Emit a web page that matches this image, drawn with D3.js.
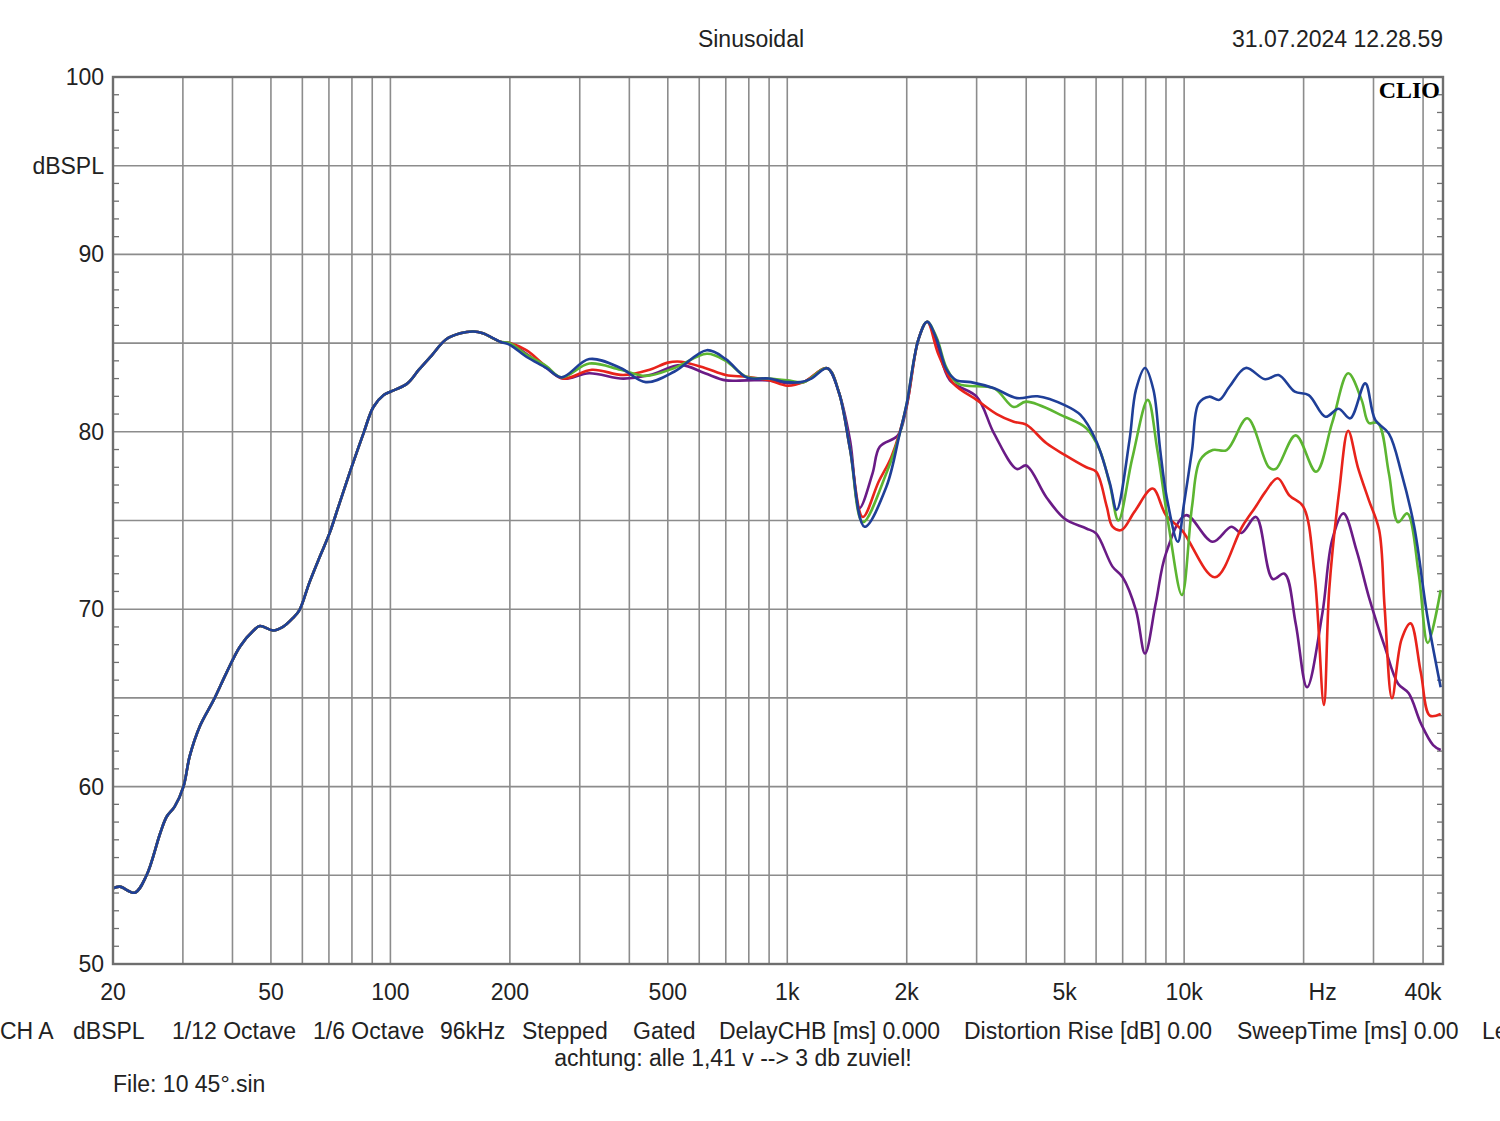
<!DOCTYPE html>
<html>
<head>
<meta charset="utf-8">
<script src="https://cdn.jsdelivr.net/npm/d3@7"></script>
<style>
  body { margin: 0; background: #fff; }
  text { font-family: "Liberation Sans", Arial, sans-serif; fill: #222; }
</style>
</head>
<body>
<svg id="chart"></svg>
<script>
// shared low end (all four measurements overlap below 200 Hz)
const lowFreq = [20, 20.8, 22.7, 24.3, 26.3, 27.3, 28.6, 30.1, 31.2, 33.1, 35.9, 38.6, 41.8, 45.2, 46.9, 50.7, 53.6, 56.8, 59, 62.5, 66.5, 70.3, 74, 79.4, 85.5, 90.6, 96.2, 100, 110, 118, 127, 138, 150, 162, 171, 189];
const lowDb = [54.27, 54.36, 54.02, 55.0, 57.37, 58.3, 58.87, 60.0, 61.7, 63.4, 64.9, 66.4, 67.9, 68.8, 69.05, 68.8, 69.0, 69.5, 69.95, 71.5, 73.0, 74.3, 75.8, 77.85, 79.9, 81.4, 82.07, 82.26, 82.7, 83.5, 84.3, 85.2, 85.55, 85.65, 85.55, 85.08];

const blueFreq = [200, 220, 247, 270, 317, 380, 440, 520, 627, 700, 789, 900, 1000, 1080, 1150, 1261, 1350, 1440, 1566, 1777, 1920, 2000, 2140, 2252, 2380, 2520, 2670, 2900, 3320, 3790, 4270, 5000, 5480, 6000, 6500, 6760, 7280, 7560, 7970, 8370, 8700, 9040, 9640, 9970, 10470, 10880, 11570, 12260, 13000, 14300, 16000, 17300, 19000, 20600, 22700, 24500, 26200, 28600, 30300, 32800, 35300, 38000, 41000, 44300];
const blueDb = [84.9, 84.23, 83.6, 83.07, 84.1, 83.6, 82.8, 83.4, 84.6, 84.1, 83.07, 83.0, 82.8, 82.8, 83.0, 83.58, 82.2, 79.0, 74.65, 76.9, 79.9, 81.6, 85.2, 86.2, 85.2, 83.5, 82.9, 82.8, 82.45, 81.9, 82.0, 81.5, 80.95, 79.5, 77.1, 75.6, 79.5, 82.36, 83.6, 82.36, 79.0, 76.3, 73.8, 75.8, 78.97, 81.6, 81.98, 81.8, 82.54, 83.6, 82.96, 83.2, 82.26, 82.07, 80.85, 81.3, 80.76, 82.73, 80.67, 79.9, 77.66, 74.65, 69.6, 65.6];

const greenFreq = [200, 220, 247, 270, 317, 380, 440, 520, 627, 700, 789, 900, 1000, 1100, 1261, 1350, 1440, 1550, 1777, 1920, 2000, 2140, 2252, 2380, 2520, 2700, 3320, 3720, 4000, 5000, 5670, 6120, 6500, 6830, 7400, 8100, 8560, 9150, 9870, 10470, 10970, 11800, 12800, 14430, 16350, 17000, 19100, 21500, 23600, 25900, 28000, 29200, 30800, 32800, 34600, 36500, 39000, 41100, 44300];
const greenDb = [85.0, 84.35, 83.7, 83.07, 83.85, 83.5, 83.15, 83.6, 84.4, 84.0, 83.1, 83.0, 82.9, 82.8, 83.58, 82.2, 79.0, 74.9, 77.66, 79.9, 81.6, 85.2, 86.2, 85.3, 83.6, 82.7, 82.45, 81.4, 81.7, 80.85, 80.2, 79.0, 77.0, 75.0, 78.5, 81.8, 78.97, 74.65, 70.8, 75.8, 78.4, 78.97, 78.97, 80.76, 78.0, 77.9, 79.8, 77.75, 80.5, 83.3, 81.8, 80.5, 80.5, 77.66, 74.9, 75.4, 72.0, 68.1, 71.08];

const redFreq = [200, 220, 247, 272, 322, 386, 450, 500, 540, 620, 700, 790, 900, 1000, 1100, 1261, 1350, 1440, 1550, 1700, 1830, 2000, 2140, 2252, 2400, 2620, 3000, 3370, 3720, 4000, 4500, 5000, 5670, 6000, 6380, 6600, 6950, 7500, 8330, 9000, 9870, 11960, 14000, 15170, 16000, 17200, 18430, 19940, 21300, 22500, 23200, 24600, 25900, 27400, 29200, 31000, 32000, 33400, 35300, 37200, 39500, 41600, 44300];
const redDb = [85.0, 84.6, 83.67, 83.0, 83.5, 83.2, 83.5, 83.9, 83.95, 83.6, 83.2, 83.1, 82.9, 82.6, 82.8, 83.58, 82.2, 79.0, 75.2, 77.2, 78.6, 81.5, 85.2, 86.2, 84.4, 82.73, 81.8, 81.0, 80.57, 80.4, 79.35, 78.7, 78.0, 77.75, 75.8, 74.65, 74.46, 75.5, 76.8, 75.3, 74.46, 71.8, 74.65, 75.8, 76.6, 77.38, 76.4, 75.8, 72.0, 64.6, 71.08, 76.7, 80.06, 78.0, 76.15, 74.46, 70.1, 64.98, 68.3, 69.2, 66.4, 64.0, 64.1];

const purpleFreq = [200, 220, 247, 272, 317, 386, 450, 540, 620, 700, 790, 900, 1000, 1100, 1261, 1350, 1440, 1520, 1640, 1710, 1900, 1990, 2140, 2252, 2380, 2570, 3000, 3320, 3790, 4000, 4500, 5000, 5670, 6000, 6600, 7000, 7560, 7970, 8480, 9000, 10100, 11800, 13150, 13940, 15170, 16720, 17900, 19100, 20400, 22300, 23600, 25200, 27200, 29200, 32000, 34600, 36800, 39500, 42400, 44300];
const purpleDb = [85.0, 84.4, 83.6, 83.0, 83.3, 83.0, 83.2, 83.76, 83.3, 82.9, 82.9, 82.9, 82.75, 82.8, 83.58, 82.2, 79.5, 75.7, 77.66, 79.16, 79.8, 81.2, 85.2, 86.2, 85.0, 82.9, 81.98, 79.9, 77.9, 78.1, 76.3, 75.1, 74.55, 74.27, 72.4, 71.8, 69.95, 67.5, 70.33, 73.15, 75.3, 73.8, 74.65, 74.3, 75.2, 71.7, 72.0, 69.2, 65.6, 69.77, 73.9, 75.4, 73.3, 70.7, 67.9, 65.8, 65.26, 63.56, 62.34, 62.06];

const seriesNames = ["purple", "red", "green", "blue"];
const seriesColors = ["#6a1b86", "#e8231b", "#5cb531", "#1f3f98"];
const seriesFreq = [purpleFreq, redFreq, greenFreq, blueFreq];
const seriesDb = [purpleDb, redDb, greenDb, blueDb];

const gridFreqs = [30, 40, 50, 60, 70, 80, 90, 100, 200, 300, 400, 500, 600, 700, 800, 900, 1000, 2000, 3000, 4000, 5000, 6000, 7000, 8000, 9000, 10000, 20000, 30000, 40000];
const xTickValues = [20, 50, 100, 200, 500, 1000, 2000, 5000, 10000, 20000, 40000];
const xTickLabels = ["20", "50", "100", "200", "500", "1k", "2k", "5k", "10k", "Hz", "40k"];
const yTickValues = [100, 90, 80, 70, 60, 50];

const footerItems = ["CH A", "dBSPL", "1/12 Octave", "1/6 Octave", "96kHz", "Stepped", "Gated", "DelayCHB [ms] 0.000", "Distortion Rise [dB] 0.00", "SweepTime [ms] 0.00", "Le"];
const footerX = [0, 73, 172, 313, 440, 522, 633, 719, 964, 1237, 1482];

function main() {
    const width = 1500, height = 1121;
    const left = 113, right = 1443, top = 77, bottom = 964;

    const svg = d3.select("#chart").attr("width", width).attr("height", height);

    const x = d3.scaleLog().domain([20, 44900]).range([left, right]);
    const y = d3.scaleLinear().domain([50, 100]).range([bottom, top]);

    const grid = svg.append("g").attr("stroke", "#8c8c8c").attr("stroke-width", 1.6);

    grid.selectAll(".vgrid").data(gridFreqs).join("line")
        .attr("x1", d => x(d)).attr("x2", d => x(d))
        .attr("y1", top).attr("y2", bottom);

    grid.selectAll(".hgrid").data(d3.range(55, 100, 5)).join("line")
        .attr("x1", left).attr("x2", right)
        .attr("y1", d => y(d)).attr("y2", d => y(d));

    // 1 dB minor ticks on both sides
    const minor = d3.range(51, 100).filter(d => d % 5 !== 0);
    const ticks = svg.append("g").attr("stroke", "#707070").attr("stroke-width", 1.3);
    ticks.selectAll(".lt").data(minor).join("line")
        .attr("x1", left).attr("x2", left + 6)
        .attr("y1", d => y(d)).attr("y2", d => y(d));
    ticks.selectAll(".rt").data(minor).join("line")
        .attr("x1", right - 6).attr("x2", right)
        .attr("y1", d => y(d)).attr("y2", d => y(d));

    // curves
    const line = d3.line()
        .x(d => x(d[0])).y(d => y(d[1]))
        .curve(d3.curveCatmullRom.alpha(0.5));

    seriesNames.forEach((name, i) => {
        const pts = lowFreq.map((f, j) => [f, lowDb[j]])
            .concat(seriesFreq[i].map((f, j) => [f, seriesDb[i][j]]));
        svg.append("path")
            .attr("class", "curve " + name)
            .attr("d", line(pts))
            .attr("fill", "none")
            .attr("stroke", seriesColors[i])
            .attr("stroke-width", 2.6)
            .attr("stroke-linejoin", "round");
    });

    // frame
    svg.append("rect")
        .attr("x", left).attr("y", top)
        .attr("width", right - left).attr("height", bottom - top)
        .attr("fill", "none").attr("stroke", "#6e6e6e").attr("stroke-width", 2.4);

    // axis labels
    svg.selectAll(".ylab").data(yTickValues).join("text")
        .attr("x", 104).attr("y", d => y(d))
        .attr("dy", "0.35em").attr("text-anchor", "end")
        .attr("font-size", 23).text(d => d);

    svg.append("text").attr("x", 104).attr("y", y(95)).attr("dy", "0.35em")
        .attr("text-anchor", "end").attr("font-size", 23).text("dBSPL");

    svg.selectAll(".xlab").data(xTickValues).join("text")
        .attr("x", (d, i) => xTickLabels[i] === "Hz" ? x(d) + 19 : x(d))
        .attr("y", 992).attr("dy", "0.35em")
        .attr("text-anchor", "middle").attr("font-size", 23)
        .text((d, i) => xTickLabels[i]);

    // header
    svg.append("text").attr("x", 751).attr("y", 39).attr("dy", "0.35em")
        .attr("text-anchor", "middle").attr("font-size", 23).text("Sinusoidal");
    svg.append("text").attr("x", 1443).attr("y", 39).attr("dy", "0.35em")
        .attr("text-anchor", "end").attr("font-size", 23).text("31.07.2024 12.28.59");

    svg.append("text").attr("x", 1440).attr("y", 98)
        .attr("text-anchor", "end").attr("font-size", 24)
        .style("font-family", "'Liberation Serif', 'Times New Roman', serif")
        .style("font-weight", "bold").style("fill", "#000")
        .text("CLIO");

    // footer
    svg.selectAll(".foot").data(footerItems).join("text")
        .attr("x", (d, i) => footerX[i]).attr("y", 1031).attr("dy", "0.35em")
        .attr("font-size", 23).text(d => d);

    svg.append("text").attr("x", 733).attr("y", 1058).attr("dy", "0.35em")
        .attr("text-anchor", "middle").attr("font-size", 23)
        .text("achtung: alle 1,41 v --> 3 db zuviel!");

    svg.append("text").attr("x", 113).attr("y", 1084).attr("dy", "0.35em")
        .attr("font-size", 23).text("File: 10 45°.sin");
}

main();
</script>
</body>
</html>
